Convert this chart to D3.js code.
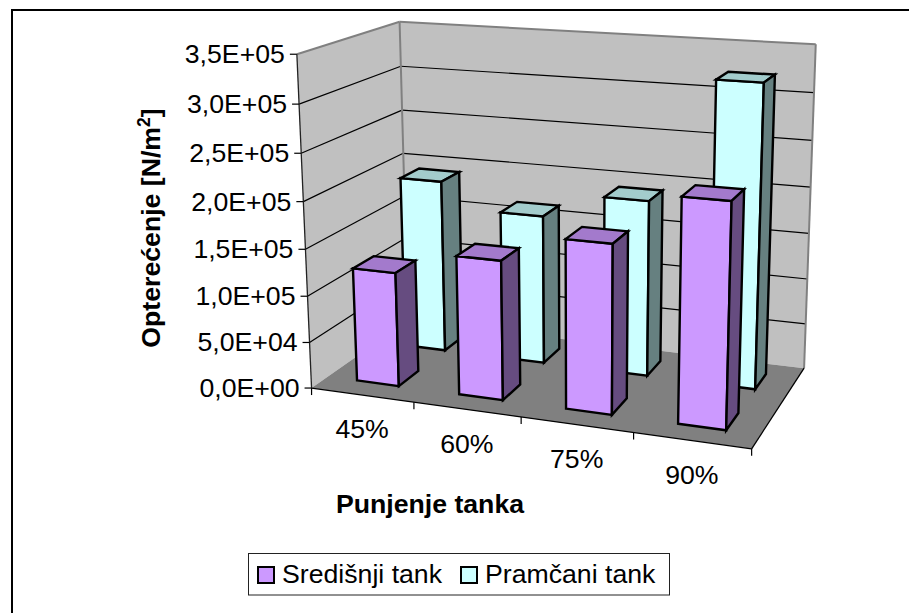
<!DOCTYPE html>
<html><head><meta charset="utf-8">
<style>html,body{margin:0;padding:0;background:#fff}svg{display:block}text{font-family:"Liberation Sans",Arial,sans-serif;fill:#000}</style>
<script src="https://cdn.jsdelivr.net/npm/d3@7"></script>
</head><body><div id="c"></div>
<script>
const categories = ["45%","60%","75%","90%"];
const seriesNames = ["Središnji tank","Pramčani tank"];
const sredisnji = [123000,148000,177000,230000];
const pramcani = [192000,164000,191000,322000];
const tickValues = [0,50000,100000,150000,200000,250000,300000,350000];
const tickLabels = ["0,0E+00","5,0E+04","1,0E+05","1,5E+05","2,0E+05","2,5E+05","3,0E+05","3,5E+05"];
const xTitle = "Punjenje tanka";
const yTitle = "Opterećenje [N/m";

// camera calibration: box coords (u,v,w) -> page px
const calib = [
[0,0,0,311,388],[1,0,0,752,448],[0,1,0,410,319],[1,1,0,805,369],
[0,0,1,298,53],[0,1,1,399,22],[1,1,1,817,44],
[.25,0,0,414,402],[.5,0,0,522,417],[.75,0,0,633,432],
[0,1,6/7,400,66],[0,1,5/7,401.7,110],[0,1,4/7,403.3,154],
[1,1,6/7,813,92.7],[1,1,5/7,812,140],[1,1,4/7,810.7,187],[1,1,2/7,806.7,279],[1,1,1/7,805,325],
[0,0,1/7,308,343],[0,0,2/7,306.5,296.7],[0,0,3/7,305,250],[0,0,4/7,303.5,201.7],[0,0,5/7,302,153.3],[0,0,6/7,300,105]];
function fit(pts){
  const n=11,A=d3.range(n).map(()=>new Array(n+1).fill(0));
  const add=(r,t)=>{for(let i=0;i<n;i++){for(let j=0;j<n;j++)A[i][j]+=r[i]*r[j];A[i][n]+=r[i]*t;}};
  pts.forEach(([u,v,w,x,y])=>{x/=100;y/=100;
    add([u,v,w,1,0,0,0,0,-x*u,-x*v,-x*w],x);
    add([0,0,0,0,u,v,w,1,-y*u,-y*v,-y*w],y);});
  for(let i=0;i<n;i++){let m=i;for(let k=i+1;k<n;k++)if(Math.abs(A[k][i])>Math.abs(A[m][i]))m=k;
    [A[i],A[m]]=[A[m],A[i]];
    for(let k=0;k<n;k++)if(k!==i){const f=A[k][i]/A[i][i];for(let j=i;j<=n;j++)A[k][j]-=f*A[i][j];}}
  return A.map((r,i)=>r[n]/r[i]);
}
const P=fit(calib);
const proj=(u,v,w)=>{const d=1+P[8]*u+P[9]*v+P[10]*w;
  return [100*(P[0]*u+P[1]*v+P[2]*w+P[3])/d,100*(P[4]*u+P[5]*v+P[6]*w+P[7])/d];};

const W=909,H=613;
const svg=d3.select("#c").append("svg").attr("width",W).attr("height",H);
const line=d3.line();
const poly=(pts,fill,stroke,sw)=>svg.append("path").attr("d",line(pts)+"Z").attr("fill",fill)
  .attr("stroke",stroke||"none").attr("stroke-width",sw||0).attr("stroke-linejoin","miter");
const seg=(a,b,stroke,sw)=>svg.append("path").attr("d",line([a,b])).attr("fill","none").attr("stroke",stroke).attr("stroke-width",sw);

// outer frame (only top and left lines are in view)
seg([12,613],[12,9],"#000",2); seg([11,10],[909,10],"#000",2);

const yScale=d3.scaleLinear().domain([0,350000]).range([0,1]);
const xBand=d3.scaleBand().domain(categories).range([0,1]);
const zBand=d3.scaleBand().domain(seriesNames).range([0,1]);
const barFrac=.415, depthFrac=.41, depthOff=[.31,.32];

// walls
poly([proj(0,0,0),proj(0,1,0),proj(0,1,1),proj(0,0,1)],"#c0c0c0");
poly([proj(0,1,0),proj(1,1,0),proj(1,1,1),proj(0,1,1)],"#c0c0c0");
// gridlines
tickValues.slice(1,-1).forEach(t=>{const w=yScale(t);
  seg(proj(0,0,w),proj(0,1,w),"#000",1.2); seg(proj(0,1,w),proj(1,1,w),"#000",1.2);});
// wall edges
seg(proj(0,0,1),proj(0,1,1),"#808080",2);
seg(proj(0,1,1),proj(1,1,1),"#808080",2);
seg(proj(0,1,0),proj(0,1,1),"#808080",2);
seg(proj(1,1,0),proj(1,1,1),"#808080",2);
// floor
poly([proj(0,0,0),proj(1,0,0),proj(1,1,0),proj(0,1,0)],"#808080");
seg(proj(0,0,0),proj(1,0,0),"#000",1.3);
seg(proj(1,0,0),proj(1,1,0),"#000",1.3);
seg(proj(0,0,0),proj(0,0,1),"#222",1.3);

// value axis
const yAxis=svg.append("g");
tickValues.forEach((t,i)=>{const p=proj(0,0,yScale(t));
  yAxis.append("path").attr("d",line([[p[0]-7,p[1]],p])).attr("stroke","#000").attr("stroke-width",1.2);
  yAxis.append("text").attr("x",p[0]-12).attr("y",p[1]+9).attr("text-anchor","end").attr("font-size",26.67).text(tickLabels[i]);});
// category axis
const xAxis=svg.append("g");
d3.range(categories.length+1).forEach(i=>{const p=proj(i/categories.length,0,0);
  xAxis.append("path").attr("d",line([p,[p[0],p[1]+7]])).attr("stroke","#000").attr("stroke-width",1.2);});
categories.forEach(c=>{const p=proj(xBand(c)+xBand.bandwidth()/2,0,0);
  xAxis.append("text").attr("x",p[0]).attr("y",p[1]+43).attr("text-anchor","middle").attr("font-size",26.67).text(c);});

// bars
const styles={"Središnji tank":{front:"#cc99ff",top:"#a37acc",side:"#664c80"},"Pramčani tank":{front:"#ccffff",top:"#a3cccc",side:"#668080"}};
function bar(cat,name,val){
  const st=styles[name],bw=xBand.bandwidth()*barFrac;
  const u0=xBand(cat)+(xBand.bandwidth()-bw)/2,u1=u0+bw;
  const si=seriesNames.indexOf(name);
  const v0=zBand(name)+zBand.bandwidth()*depthOff[si],v1=v0+zBand.bandwidth()*depthFrac,w=yScale(val);
  poly([proj(u0,v0,0),proj(u1,v0,0),proj(u1,v0,w),proj(u0,v0,w)],st.front,"#000",2.4);
  poly([proj(u0,v0,w),proj(u1,v0,w),proj(u1,v1,w),proj(u0,v1,w)],st.top,"#000",2.4);
  poly([proj(u1,v0,0),proj(u1,v1,0),proj(u1,v1,w),proj(u1,v0,w)],st.side,"#000",2.4);
}
categories.forEach((c,i)=>bar(c,seriesNames[1],pramcani[i]));
categories.forEach((c,i)=>bar(c,seriesNames[0],sredisnji[i]));

// titles
svg.append("text").attr("x",430).attr("y",513).attr("text-anchor","middle").attr("font-size",26.67).attr("font-weight","bold").text(xTitle);
const yt=svg.append("text").attr("transform","translate(160,228) rotate(-90)").attr("text-anchor","middle").attr("font-size",26.67).attr("font-weight","bold");
yt.append("tspan").text(yTitle);
yt.append("tspan").attr("dy",-10).attr("font-size",17.5).text("2");
yt.append("tspan").attr("dy",10).text("]");

// legend
svg.append("rect").attr("x",248.5).attr("y",553.5).attr("width",421).attr("height",41.5).attr("fill","#fff").attr("stroke","#222").attr("stroke-width",1);
const lg=[[258,282],[461,485]];
seriesNames.forEach((s,i)=>{
  svg.append("rect").attr("x",lg[i][0]).attr("y",567).attr("width",16).attr("height",16).attr("fill",styles[s].front).attr("stroke","#000").attr("stroke-width",2);
  svg.append("text").attr("x",lg[i][1]).attr("y",583).attr("font-size",26.67).text(s);});
</script></body></html>
